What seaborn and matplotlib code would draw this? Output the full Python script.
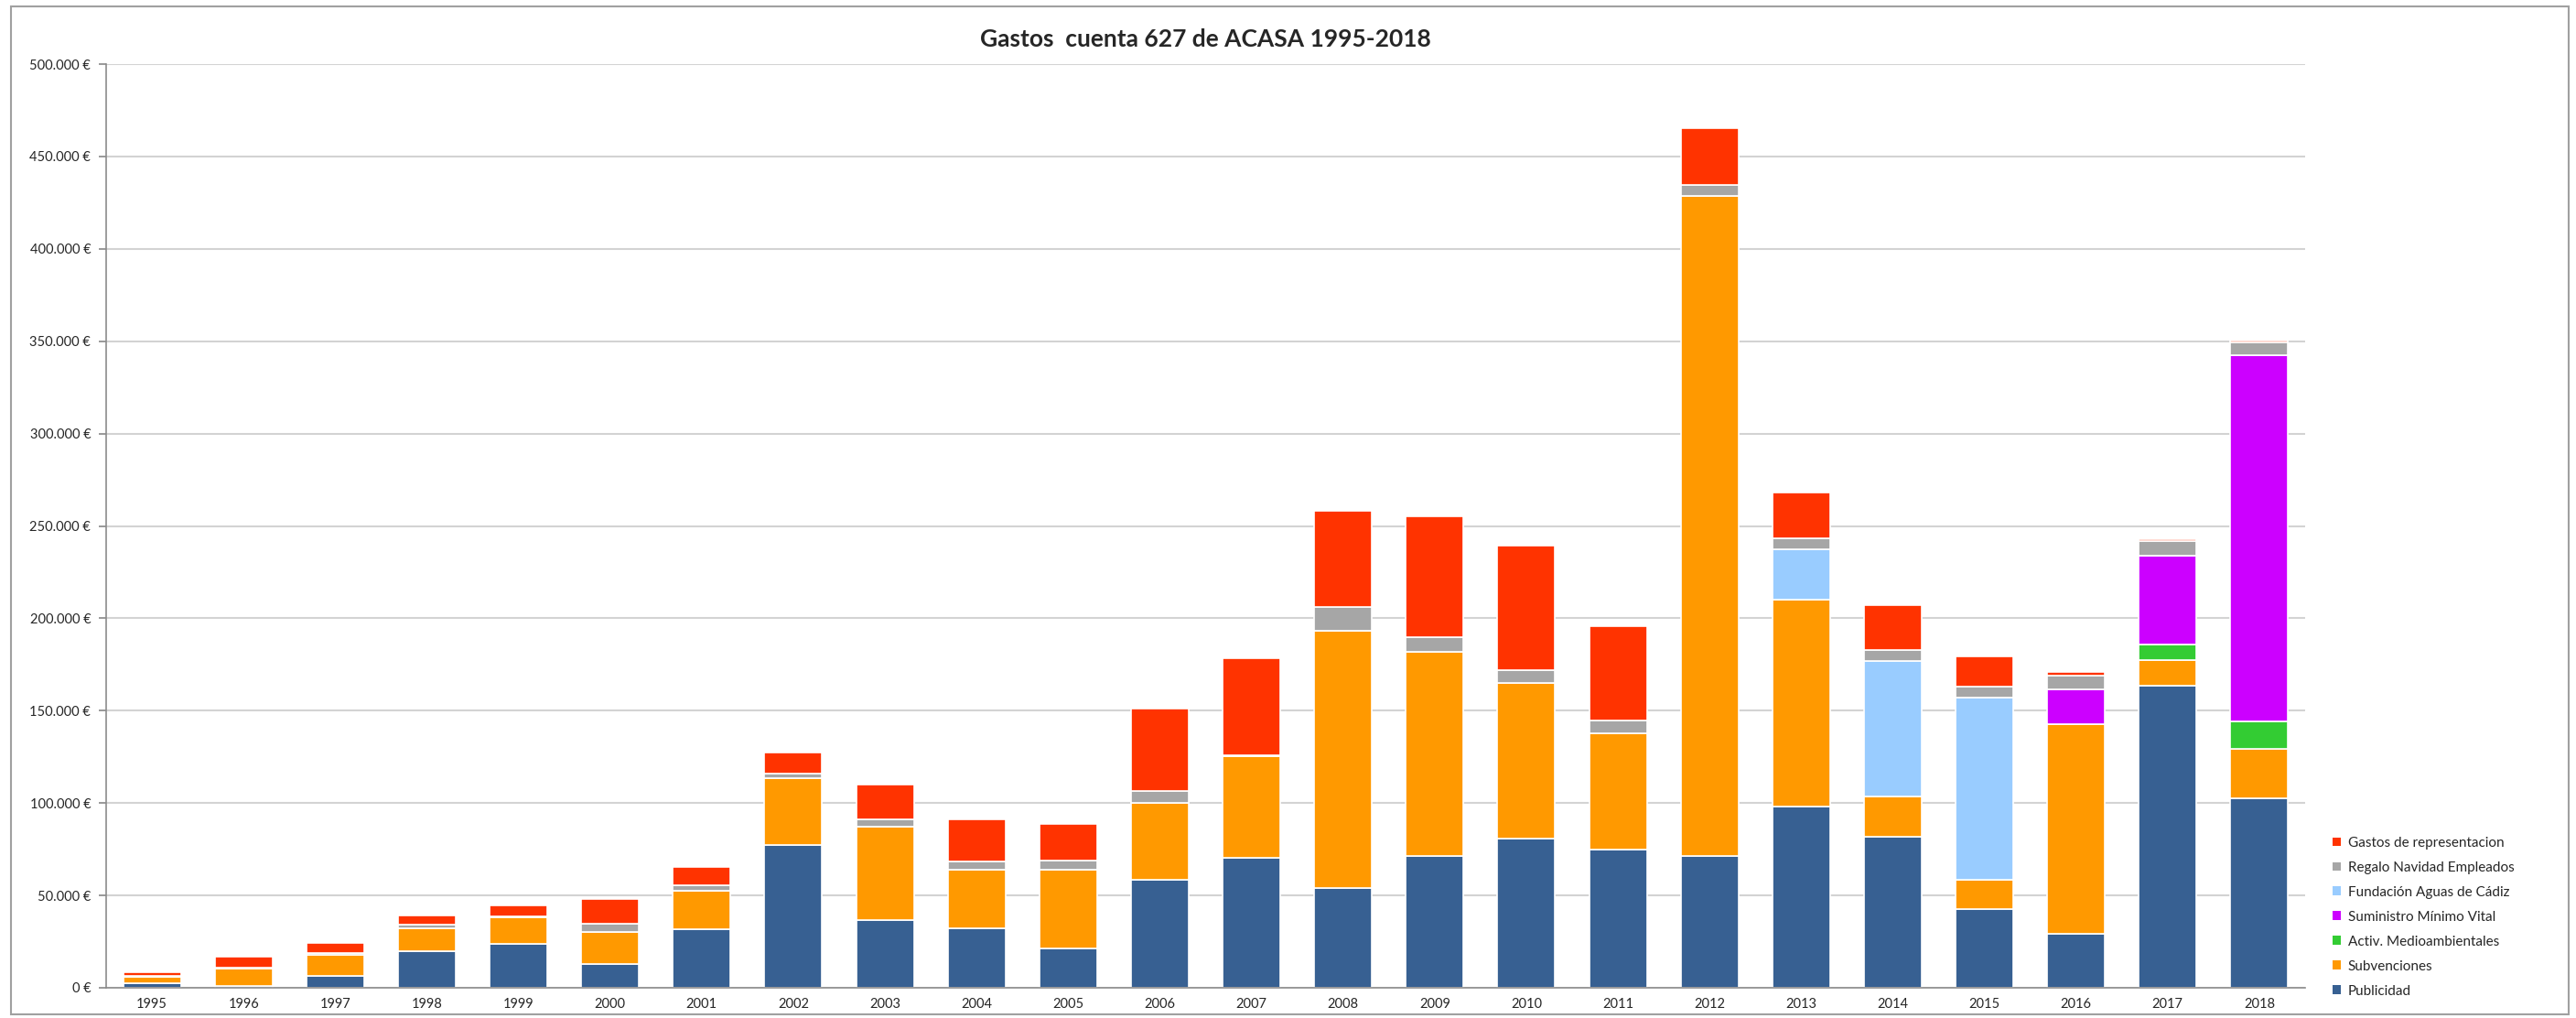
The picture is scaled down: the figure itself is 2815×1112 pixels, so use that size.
import matplotlib
matplotlib.use("Agg")
import matplotlib.pyplot as plt
from matplotlib.patches import Patch, Rectangle
from matplotlib.ticker import FuncFormatter, MultipleLocator
import seaborn as sns
import numpy as np
import pandas as pd

# Datos (miles de euros)
anios = [str(a) for a in range(1995, 2019)]
publicidad = [2.5, 1, 6.5, 19.8, 24, 13, 31.7, 77.5, 36.5, 32, 21.5, 58.6, 70.5, 54,
              71.4, 80.8, 75, 71.4, 98, 82, 42.6, 29.4, 163.4, 102.6]
subvenciones = [3.5, 9.5, 11.5, 12.2, 14, 17, 21, 36, 50.5, 32, 42.5, 41.6, 55, 139.5,
                110.6, 84.2, 63, 357, 112, 21.7, 16, 113.2, 14, 26.8]
activ_medio = [0] * 22 + [8.3, 14.8]
suministro = [0] * 21 + [19, 48, 198.4]
fundacion = [0] * 18 + [27.5, 73, 98.5] + [0] * 3
regalo = [0.3, 0.5, 1, 2.3, 0.5, 4.5, 3, 2.7, 4.2, 4.5, 5, 6.3, 0.5, 12.8, 8, 7.2,
          6.7, 6, 5.7, 6, 6, 7.6, 8, 7]
gastos_rep = [2, 6, 5.5, 4.6, 6, 13.5, 9.5, 11.2, 18.6, 22.5, 19.5, 44.6, 52.5, 52,
              65.2, 67, 51, 31, 25, 24.3, 16.3, 1.8, 1.2, 0.8]

series = [
    ("Publicidad", publicidad, "#376092"),
    ("Subvenciones", subvenciones, "#FF9900"),
    ("Activ. Medioambientales", activ_medio, "#33CC33"),
    ("Suministro Mínimo Vital", suministro, "#CC00FF"),
    ("Fundación Aguas de Cádiz", fundacion, "#99CCFF"),
    ("Regalo Navidad Empleados", regalo, "#A6A6A6"),
    ("Gastos de representacion", gastos_rep, "#FF3300"),
]

sns.set_theme(style="whitegrid")
plt.rcParams['font.family'] = ['Lato', 'DejaVu Sans']

fig = plt.figure(figsize=(28.15, 11.12), dpi=100)
ax = fig.add_axes([116 / 2815, 1 - 1079 / 1112, (2519 - 116) / 2815, (1079 - 70) / 1112])

base = np.zeros(len(anios))
for nombre, valores, color in series:
    v = np.array(valores) * 1000
    df = pd.DataFrame({"anio": anios, "valor": v})
    sns.barplot(data=df, x="anio", y="valor", color=color, saturation=1,
                errorbar=None, width=0.63, bottom=base, edgecolor="white",
                linewidth=1.2, ax=ax)
    base = base + v

ax.set_xlim(-0.5, len(anios) - 0.5)
ax.set_ylim(0, 500000)
ax.yaxis.set_major_locator(MultipleLocator(50000))
ax.yaxis.set_major_formatter(FuncFormatter(lambda v, p: f"{int(v):,}".replace(",", ".") + " €"))
ax.set_xlabel("")
ax.set_ylabel("")
ax.grid(axis="y", color="#D3D3D3", linewidth=1.5)
ax.grid(axis="x", visible=False)
ax.set_axisbelow(True)
ax.set_facecolor("white")
for s in ["top", "right"]:
    ax.spines[s].set_visible(False)
for s in ["left", "bottom"]:
    ax.spines[s].set_color("#8C8C8C")
    ax.spines[s].set_linewidth(1.2)
ax.tick_params(axis="y", labelsize=10.5, length=6, color="#8C8C8C", left=True, pad=6)
ax.tick_params(axis="x", labelsize=10.5, length=0, pad=8)

ax.set_title("Gastos  cuenta 627 de ACASA 1995-2018", fontsize=19, fontweight="bold", pad=14)

handles = [Patch(facecolor=c, edgecolor="none", label=n) for n, _, c in reversed(series)]
fig.legend(handles=handles, loc="upper left", bbox_to_anchor=(2535 / 2815, 1 - 900 / 1112),
           frameon=False, fontsize=11, handlelength=0.6, handleheight=0.6,
           handletextpad=0.5, labelspacing=0.85)

fig.add_artist(Rectangle((12 / 2815, 4 / 1112), (2807 - 12) / 2815, (1105 - 4) / 1112,
                         transform=fig.transFigure, fill=False, edgecolor="#A0A0A0", linewidth=1.5))

fig.savefig("out.png", dpi=100, facecolor="white")
